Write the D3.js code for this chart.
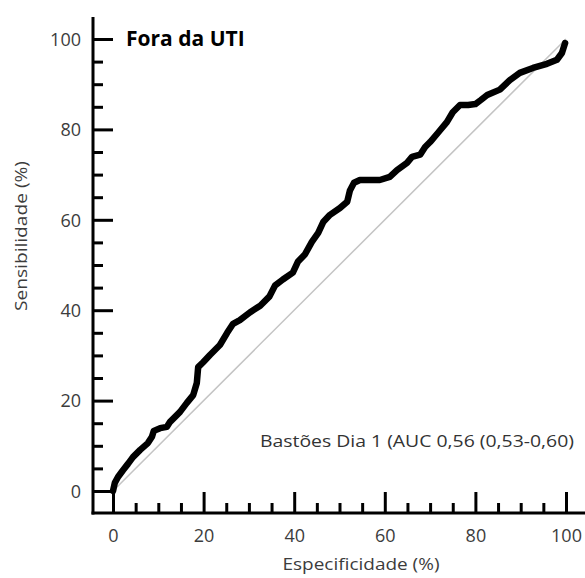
<!DOCTYPE html>
<html>
<head>
<meta charset="utf-8">
<script src="https://cdn.jsdelivr.net/npm/d3@7"></script>
<style>
  body { margin: 0; background: #fff; }
  text { font-family: "Open Sans", sans-serif; }
</style>
</head>
<body>
<svg id="main" width="585" height="578"></svg>
<script>
// ROC curve: x = especificidade (%), y = sensibilidade (%)
var especificidade = [0, 0.4, 1.1, 2.2, 3.3, 4.4, 6.0, 7.7, 8.6, 9.0, 10.4, 11.9, 12.6, 14.8, 16.3,
  17.7, 18.5, 18.8, 19.9, 21.4, 23.6, 25.2, 26.5, 28.0, 30.2, 32.5, 34.5, 35.8, 37.5, 39.7,
  40.8, 42.4, 43.9, 45.3, 46.4, 47.9, 50.1, 51.7, 52.3, 53.2, 54.5, 58.9, 61.1, 62.7, 64.9,
  66.0, 67.8, 68.9, 70.0, 71.7, 73.7, 75.0, 76.6, 78.4, 80.0, 81.2, 82.6, 85.4, 87.6, 89.8,
  92.7, 95.8, 98.0, 99.1, 99.8];
var sensibilidade = [0, 1.8, 3.1, 4.6, 6.0, 7.5, 9.1, 10.6, 12.0, 13.3, 13.9, 14.2, 15.3, 17.5, 19.5,
  21.2, 23.9, 27.4, 28.5, 30.1, 32.3, 35.0, 37.0, 37.8, 39.5, 41.0, 43.0, 45.5, 46.8, 48.3,
  50.7, 52.4, 55.1, 57.1, 59.5, 61.1, 62.6, 64.0, 66.5, 68.2, 68.8, 68.8, 69.5, 71.0, 72.6,
  73.9, 74.4, 76.1, 77.2, 79.2, 81.6, 83.8, 85.4, 85.4, 85.6, 86.5, 87.6, 88.8, 90.9, 92.5,
  93.6, 94.5, 95.4, 96.9, 99.1];

var majorTicks = [0, 20, 40, 60, 80, 100];
var minorTicks = d3.range(0, 101, 5).filter(function(v) { return v % 20 !== 0; });

var titleText = "Fora da UTI";
var legendText = "Bastões Dia 1 (AUC 0,56 (0,53-0,60)";
var xTitle = "Especificidade (%)";
var yTitle = "Sensibilidade (%)";

var svg = d3.select("#main");

var x = d3.scaleLinear().domain([0, 100]).range([113, 566]);
var y = d3.scaleLinear().domain([0, 100]).range([491, 39]);

var axisX = 93;   // y axis line sits left of x=0
var axisY = 513;  // x axis line sits below y=0

// reference diagonal
svg.append("line")
  .attr("x1", x(0)).attr("y1", y(0))
  .attr("x2", x(100)).attr("y2", y(100))
  .attr("stroke", "#c4c4c4")
  .attr("stroke-width", 1.5);

// ROC curve
var points = especificidade.map(function(v, i) { return [v, sensibilidade[i]]; });
var line = d3.line()
  .x(function(d) { return x(d[0]); })
  .y(function(d) { return y(d[1]); });

svg.append("path")
  .datum(points)
  .attr("d", line)
  .attr("fill", "none")
  .attr("stroke", "#000")
  .attr("stroke-width", 6.5)
  .attr("stroke-linejoin", "round")
  .attr("stroke-linecap", "round");

// axis lines
svg.append("line")
  .attr("x1", axisX).attr("x2", axisX)
  .attr("y1", 17).attr("y2", axisY + 1.5)
  .attr("stroke", "#000").attr("stroke-width", 3);
svg.append("line")
  .attr("x1", axisX - 1.5).attr("x2", 585)
  .attr("y1", axisY).attr("y2", axisY)
  .attr("stroke", "#000").attr("stroke-width", 3);

// y ticks (inward)
var gy = svg.append("g").attr("transform", "translate(" + axisX + ",0)");
gy.call(d3.axisLeft(y).tickValues(majorTicks).tickSize(-20).tickPadding(12));
gy.append("g").call(d3.axisLeft(y).tickValues(minorTicks).tickSize(-10).tickFormat(""));

// x ticks (inward)
var gx = svg.append("g").attr("transform", "translate(0," + axisY + ")");
gx.call(d3.axisBottom(x).tickValues(majorTicks).tickSize(-21).tickPadding(0));
gx.append("g").call(d3.axisBottom(x).tickValues(minorTicks).tickSize(-10).tickFormat(""));

svg.selectAll(".domain").remove();
svg.selectAll(".tick line").attr("stroke", "#000").attr("stroke-width", 3);
svg.selectAll(".tick text")
  .attr("fill", "#3c3c3c")
  .style("font-size", "18px")
  .style("font-family", "'Open Sans', sans-serif");
gy.selectAll(".tick text").attr("dy", "0.35em");
gx.selectAll(".tick text").attr("y", 29).attr("dy", 0);

// title
svg.append("text")
  .attr("x", 126).attr("y", 46)
  .attr("font-size", 21)
  .attr("font-weight", "bold")
  .attr("fill", "#000")
  .text(titleText);

// AUC label
svg.append("text")
  .attr("x", 260).attr("y", 447)
  .attr("font-size", 17)
  .attr("fill", "#333")
  .attr("textLength", 314)
  .attr("lengthAdjust", "spacingAndGlyphs")
  .text(legendText);

// axis titles
svg.append("text")
  .attr("x", 361).attr("y", 570)
  .attr("text-anchor", "middle")
  .attr("font-size", 17)
  .attr("fill", "#3c3c3c")
  .attr("textLength", 157)
  .attr("lengthAdjust", "spacingAndGlyphs")
  .text(xTitle);

svg.append("text")
  .attr("transform", "translate(27,236) rotate(-90)")
  .attr("text-anchor", "middle")
  .attr("font-size", 17)
  .attr("fill", "#3c3c3c")
  .attr("textLength", 150)
  .attr("lengthAdjust", "spacingAndGlyphs")
  .text(yTitle);
</script>
</body>
</html>
